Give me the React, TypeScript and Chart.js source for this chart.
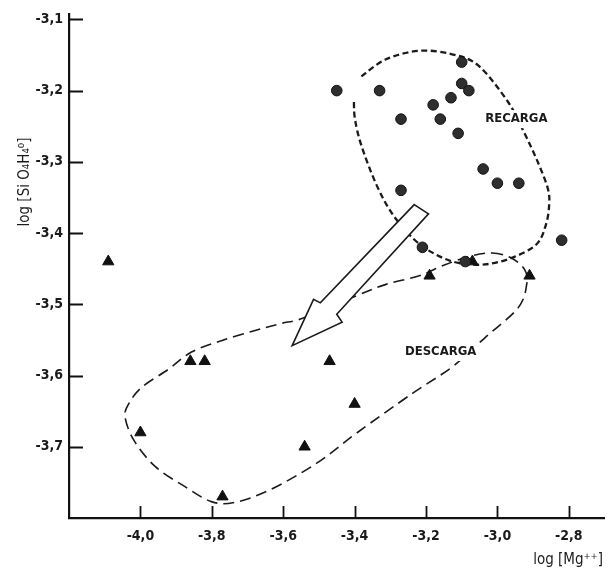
import { useEffect, useRef } from "react";
import { Chart, registerables } from "chart.js";

Chart.register(...registerables);

const xTicks = [-4.0, -3.8, -3.6, -3.4, -3.2, -3.0, -2.8];
const yTicks = [-3.1, -3.2, -3.3, -3.4, -3.5, -3.6, -3.7];

// Recarga (circles)
const recargaMg = [-3.45, -3.33, -3.10, -3.10, -3.08, -3.13, -3.18, -3.27, -3.16, -3.11, -3.04, -3.00, -2.94, -3.27, -2.82, -3.21, -3.09];
const recargaSi = [-3.20, -3.20, -3.16, -3.19, -3.20, -3.21, -3.22, -3.24, -3.24, -3.26, -3.31, -3.33, -3.33, -3.34, -3.41, -3.42, -3.44];

// Descarga (triangles)
const descargaMg = [-4.09, -3.07, -3.19, -2.91, -3.86, -3.82, -3.47, -3.40, -4.00, -3.54, -3.77];
const descargaSi = [-3.44, -3.44, -3.46, -3.46, -3.58, -3.58, -3.58, -3.64, -3.68, -3.70, -3.77];

// Envelope outlines (data units)
const recargaEnvMg = [-3.381, -3.312, -3.219, -3.127, -3.053, -2.970, -2.924, -2.887, -2.859, -2.855, -2.864, -2.891, -2.961, -3.035, -3.109, -3.173, -3.233, -3.293, -3.339, -3.381, -3.399, -3.402];
const recargaEnvSi = [-3.180, -3.156, -3.144, -3.149, -3.165, -3.216, -3.260, -3.300, -3.337, -3.360, -3.388, -3.416, -3.435, -3.444, -3.442, -3.430, -3.409, -3.374, -3.332, -3.277, -3.240, -3.214];

const descargaEnvMg = [-3.015, -2.961, -2.924, -2.918, -2.942, -3.035, -3.127, -3.238, -3.395, -3.506, -3.635, -3.735, -3.801, -3.875, -3.958, -4.018, -4.043, -4.032, -3.995, -3.921, -3.857, -3.773, -3.681, -3.607, -3.542, -3.395, -3.312, -3.219, -3.154, -3.081];
const descargaEnvSi = [-3.428, -3.435, -3.451, -3.472, -3.505, -3.547, -3.588, -3.625, -3.681, -3.723, -3.760, -3.778, -3.777, -3.756, -3.728, -3.691, -3.658, -3.639, -3.616, -3.591, -3.567, -3.551, -3.537, -3.527, -3.519, -3.488, -3.472, -3.460, -3.446, -3.433];

// Arrow outline (data units)
const arrowMg = [-3.233, -3.193, -3.450, -3.435, -3.575, -3.515, -3.496];
const arrowSi = [-3.360, -3.373, -3.514, -3.525, -3.558, -3.493, -3.498];

const zoneLabels = ["RECARGA", "DESCARGA"];
const zoneLabelMg = [-2.947, -3.159];
const zoneLabelSi = [-3.240, -3.567];

const FONT = '"DejaVu Sans Condensed", "Liberation Sans Narrow", "DejaVu Sans", sans-serif';

type Pt = { x: number; y: number };

function smoothPath(ctx: CanvasRenderingContext2D, pts: Pt[], closed: boolean) {
  const n = pts.length;
  ctx.moveTo(pts[0].x, pts[0].y);
  const segs = closed ? n : n - 1;
  for (let i = 0; i < segs; i++) {
    const p0 = closed ? pts[(i - 1 + n) % n] : pts[Math.max(i - 1, 0)];
    const p1 = pts[i];
    const p2 = pts[(i + 1) % n];
    const p3 = closed ? pts[(i + 2) % n] : pts[Math.min(i + 2, n - 1)];
    ctx.bezierCurveTo(
      p1.x + (p2.x - p0.x) / 6,
      p1.y + (p2.y - p0.y) / 6,
      p2.x - (p3.x - p1.x) / 6,
      p2.y - (p3.y - p1.y) / 6,
      p2.x,
      p2.y
    );
  }
  if (closed) ctx.closePath();
}

const fmt = (v: number) => v.toFixed(1).replace(".", ",");

const overlay = {
  id: "overlay",
  beforeDatasetsDraw(chart: any) {
    const { ctx, scales } = chart;
    const xs = scales.x;
    const ys = scales.y;
    const toPts = (mx: number[], sy: number[]): Pt[] =>
      mx.map((m, i) => ({ x: xs.getPixelForValue(m), y: ys.getPixelForValue(sy[i]) }));
    ctx.save();
    ctx.strokeStyle = "#1a1a1a";
    ctx.lineCap = "butt";
    // Recarga envelope
    ctx.setLineDash([6, 3.5]);
    ctx.lineWidth = 2.3;
    ctx.beginPath();
    smoothPath(ctx, toPts(recargaEnvMg, recargaEnvSi), false);
    ctx.stroke();
    // Descarga envelope
    ctx.setLineDash([11, 6]);
    ctx.lineWidth = 1.6;
    ctx.beginPath();
    smoothPath(ctx, toPts(descargaEnvMg, descargaEnvSi), true);
    ctx.stroke();
    // Arrow
    ctx.setLineDash([]);
    const ap = toPts(arrowMg, arrowSi);
    ctx.beginPath();
    ap.forEach((p, i) => (i === 0 ? ctx.moveTo(p.x, p.y) : ctx.lineTo(p.x, p.y)));
    ctx.closePath();
    ctx.fillStyle = "#ffffff";
    ctx.fill();
    ctx.lineWidth = 1.6;
    ctx.lineJoin = "miter";
    ctx.stroke();
    ctx.restore();
  },
  afterDatasetsDraw(chart: any) {
    const { ctx, scales } = chart;
    const xs = scales.x;
    const ys = scales.y;
    ctx.save();
    ctx.font = `bold 13px ${FONT}`;
    ctx.textAlign = "center";
    ctx.textBaseline = "middle";
    zoneLabels.forEach((t, i) => {
      const px = xs.getPixelForValue(zoneLabelMg[i]);
      const py = ys.getPixelForValue(zoneLabelSi[i]);
      const w = ctx.measureText(t).width;
      ctx.fillStyle = "#ffffff";
      ctx.fillRect(px - w / 2 - 4, py - 9, w + 8, 18);
      ctx.fillStyle = "#1a1a1a";
      ctx.fillText(t, px, py);
    });
    ctx.restore();
  },
  afterDraw(chart: any) {
    const { ctx, scales, chartArea } = chart;
    const xs = scales.x;
    const ys = scales.y;
    ctx.save();
    ctx.strokeStyle = "#111";
    ctx.lineWidth = 1.8;
    ctx.beginPath();
    yTicks.forEach((v) => {
      const py = Math.round(ys.getPixelForValue(v)) + 0.5;
      ctx.moveTo(chartArea.left, py);
      ctx.lineTo(chartArea.left + 14, py);
    });
    xTicks.forEach((v) => {
      const px = Math.round(xs.getPixelForValue(v)) + 0.5;
      ctx.moveTo(px, chartArea.bottom);
      ctx.lineTo(px, chartArea.bottom - 12);
    });
    ctx.stroke();
    // axis titles
    ctx.fillStyle = "#1a1a1a";
    ctx.font = `15px ${FONT}`;
    ctx.textBaseline = "middle";
    ctx.textAlign = "center";
    ctx.save();
    ctx.translate(25, 182);
    ctx.rotate(-Math.PI / 2);
    ctx.fillText("log [Si O\u2084H\u2084\u2070]", 0, 0);
    ctx.restore();
    ctx.textAlign = "right";
    ctx.fillText("log [Mg\u207A\u207A]", 603, 560);
    ctx.restore();
  },
};

export default function App() {
  const ref = useRef<HTMLCanvasElement | null>(null);
  useEffect(() => {
    if (!ref.current) return;
    const chart = new Chart(ref.current, {
      type: "scatter",
      data: {
        datasets: [
          {
            label: "Recarga",
            data: recargaMg.map((m, i) => ({ x: m, y: recargaSi[i] })),
            pointStyle: "circle",
            pointRadius: 5.3,
            backgroundColor: "#2e2e2e",
            borderColor: "#111111",
            borderWidth: 1,
          },
          {
            label: "Descarga",
            data: descargaMg.map((m, i) => ({ x: m, y: descargaSi[i] })),
            pointStyle: "triangle",
            pointRadius: 6.5,
            backgroundColor: "#111111",
            borderColor: "#111111",
            borderWidth: 1,
          },
        ],
      },
      options: {
        animation: false,
        responsive: false,
        layout: { padding: { top: 11, right: 1, left: 0, bottom: 0 } },
        plugins: { legend: { display: false }, tooltip: { enabled: false } },
        scales: {
          x: {
            type: "linear",
            position: "bottom",
            min: -4.2,
            max: -2.7,
            grid: { display: false, drawTicks: false },
            border: { display: true, color: "#111", width: 2.2 },
            ticks: {
              color: "#1a1a1a",
              padding: 10,
              font: { family: FONT, size: 14, weight: "bold" },
              callback: (v: any) => fmt(Number(v)),
            },
            afterBuildTicks: (s: any) => {
              s.ticks = xTicks.map((v) => ({ value: v }));
            },
            afterFit: (s: any) => {
              s.height = 54;
            },
          },
          y: {
            type: "linear",
            min: -3.8,
            max: -3.093,
            grid: { display: false, drawTicks: false },
            border: { display: true, color: "#111", width: 2.2 },
            ticks: {
              color: "#1a1a1a",
              padding: 6,
              font: { family: FONT, size: 14, weight: "bold" },
              callback: (v: any) => fmt(Number(v)),
            },
            afterBuildTicks: (s: any) => {
              s.ticks = yTicks.map((v) => ({ value: v }));
            },
            afterFit: (s: any) => {
              s.width = 69;
            },
          },
        },
      } as any,
      plugins: [overlay],
    });
    return () => chart.destroy();
  }, []);
  return (
    <div style={{ position: "absolute", left: 0, top: 0, width: 612, height: 572, background: "#fff" }}>
      <canvas ref={ref} width={612} height={572} />
    </div>
  );
}
